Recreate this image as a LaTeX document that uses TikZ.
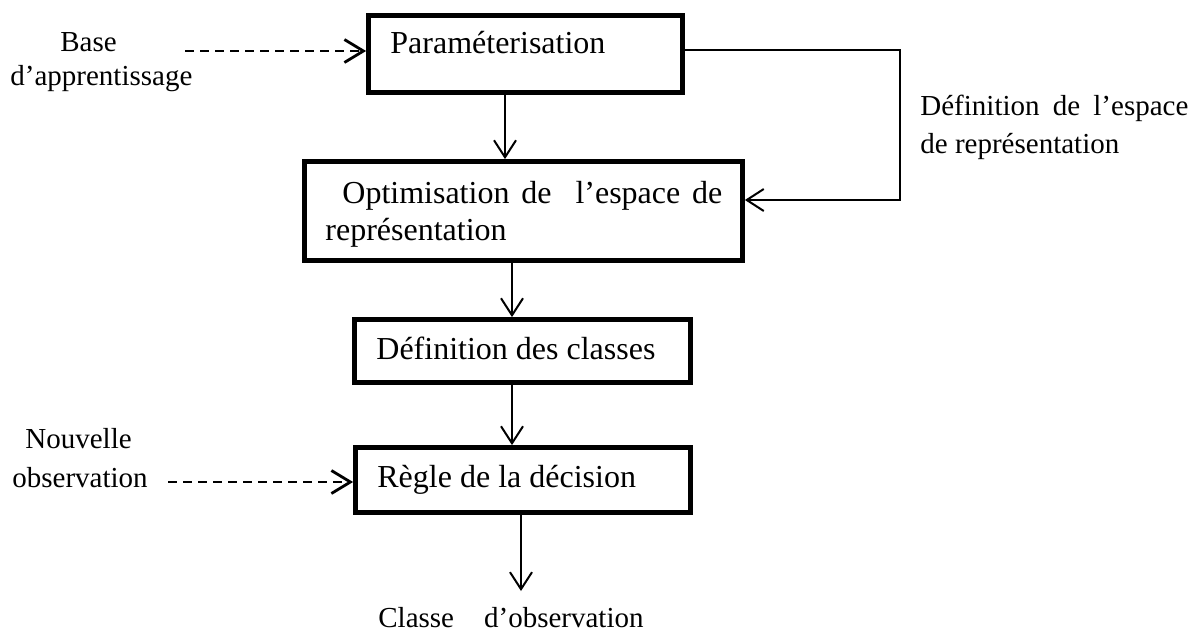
\documentclass[tikz,border=0pt]{standalone}
\usepackage{fontspec}
\setmainfont{Liberation Serif}
\usetikzlibrary{arrows.meta}
\begin{document}
\begin{tikzpicture}[x=0.5pt,y=-0.5pt,
  box/.style={draw, line width=2.4pt, rectangle, inner sep=0pt},
  txt/.style={inner sep=0pt, anchor=base west, font=\fontsize{16}{19}\selectfont},
  lbl/.style={inner sep=0pt, anchor=base west, font=\fontsize{14.5}{17}\selectfont},
  arr/.style={line width=1pt, -{Straight Barb[length=8.5pt,width=11pt,line width=1pt]}},
  darr/.style={line width=1.4pt, dash pattern=on 4.5pt off 3pt, -{Straight Barb[length=9.5pt,width=11.5pt,line width=1.4pt]}}]
\useasboundingbox (0,0) rectangle (1199,633);
% boxes
\node[box, minimum width=157pt, minimum height=38.5pt] (b1) at (525.5,54) {};
\node[box, minimum width=219pt, minimum height=49.5pt] (b2) at (523.5,211) {};
\node[box, minimum width=168pt, minimum height=31.5pt] (b3) at (522.5,351) {};
\node[box, minimum width=167.5pt, minimum height=32.5pt] (b4) at (523,480) {};
% box texts
\node[txt] (t1) at (390,53) {Paraméterisation};
\node[txt] (t2a) at (342,203) {\makebox[190pt][l]{Optimisation\hfill de\hfill\hspace{6pt}l’espace\hfill de}};
\node[txt] (t2b) at (325,240) {représentation};
\node[txt] (t3) at (376,359) {Définition des classes};
\node[txt] (t4) at (377,487) {Règle de la décision};
% outside labels
\node[lbl] (l1a) at (60,51) {Base};
\node[lbl] (l1b) at (10,85) {d’apprentissage};
\node[lbl] (l2a) at (25,448) {Nouvelle};
\node[lbl] (l2b) at (12,487) {observation};
\node[lbl] (l3a) at (920,115) {\makebox[134pt][l]{Définition\hfill de\hfill l’espace}};
\node[lbl] (l3b) at (920,153) {de représentation};
\node[lbl] (l4) at (378,627) {Classe\hspace{15pt}d’observation};
% connectors
\coordinate (s1) at (185,51);
\coordinate (s2) at (168,482);
\coordinate (fb) at (900,200);
\coordinate (out) at (521,591);
\draw[darr] (s1) -- (b1.west |- s1);
\draw[darr] (s2) -- (b4.west |- s2);
\draw[arr] (505,0 |- b1.south) -- (505,0 |- b2.north);
\draw[arr] (512,0 |- b2.south) -- (512,0 |- b3.north);
\draw[arr] (512,0 |- b3.south) -- (512,0 |- b4.north);
\draw[arr] (b4.south -| out) -- (out);
\draw[arr] (b1.east |- 0,50) -| (fb) -- (b2.east |- fb);
\end{tikzpicture}
\end{document}
